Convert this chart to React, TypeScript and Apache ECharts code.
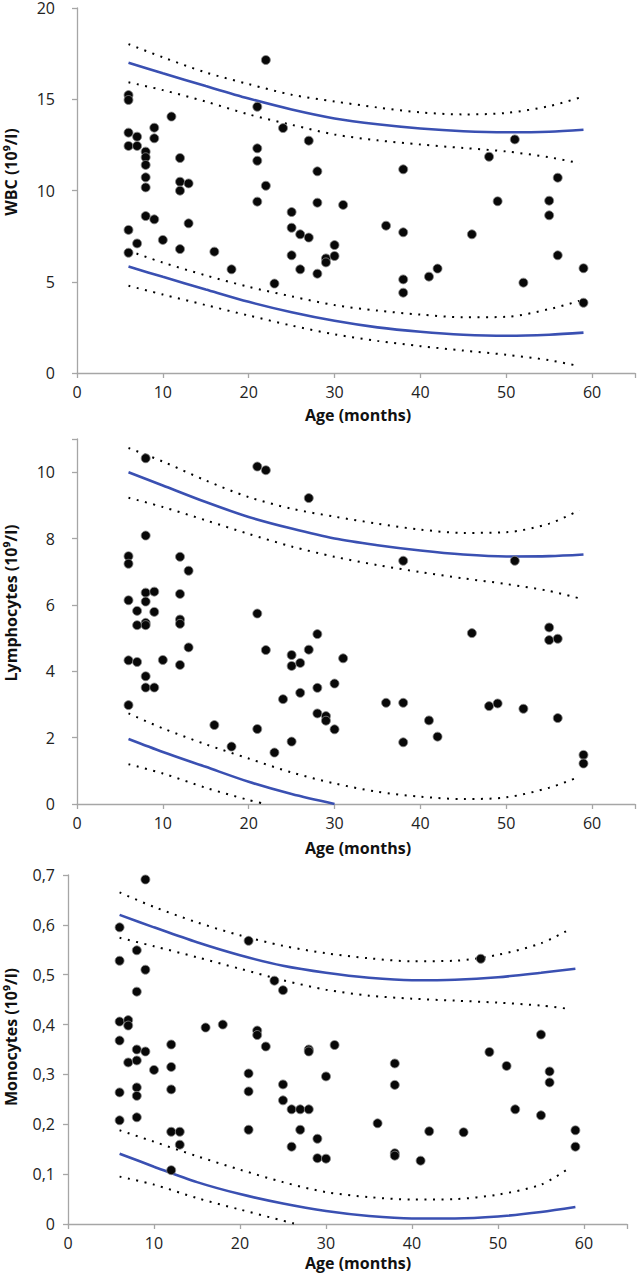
import React, { useEffect, useRef } from "react";
import * as echarts from "echarts";

// ---------- Panel 1: WBC ----------
const wbcPoints: [number, number][] = [
  [6, 15.23], [6, 14.96], [6, 13.17], [6, 12.44], [6, 7.84], [6, 6.59],
  [7, 12.95], [7, 12.44], [7, 7.1],
  [8, 12.13], [8, 11.82], [8, 11.4], [8, 10.72], [8, 10.17], [8, 8.6],
  [9, 13.44], [9, 12.86], [9, 8.42],
  [10, 7.29], [11, 14.05],
  [12, 11.78], [12, 10.48], [12, 9.99], [12, 6.79],
  [13, 10.39], [13, 8.2], [16, 6.65], [18, 5.68],
  [21, 14.59], [21, 12.31], [21, 11.63], [21, 9.39],
  [22, 17.15], [22, 10.26], [23, 4.9], [24, 13.42],
  [25, 8.82], [25, 7.96], [25, 6.45], [26, 7.6], [26, 5.68],
  [27, 12.73], [27, 7.42], [28, 11.05], [28, 9.33], [28, 5.44],
  [29, 6.28], [29, 6.06], [30, 7.01], [30, 6.41], [31, 9.21],
  [36, 8.07], [38, 11.16], [38, 7.71], [38, 5.13], [38, 4.4],
  [41, 5.28], [42, 5.72], [46, 7.6], [48, 11.85], [49, 9.41],
  [51, 12.8], [52, 4.95], [55, 9.44], [55, 8.64], [56, 10.7], [56, 6.45],
  [59, 5.74], [59, 3.85],
];
const curveAges = [6, 10, 15, 20, 25, 30, 35, 40, 45, 50, 55, 59];
const dotAges = [6, 10, 15, 20, 25, 30, 35, 40, 45, 50, 55, 58.5];
const wbcUpper = [17.0, 16.42, 15.72, 15.04, 14.44, 13.95, 13.63, 13.4, 13.25, 13.19, 13.22, 13.33];
const wbcUpperOuter = [18.02, 17.3, 16.47, 15.83, 15.25, 14.88, 14.55, 14.28, 14.17, 14.25, 14.62, 15.08];
const wbcUpperInner = [15.93, 15.5, 14.87, 14.17, 13.6, 13.07, 12.75, 12.52, 12.33, 12.14, 11.82, 11.5];
const wbcLower = [5.83, 5.27, 4.58, 3.9, 3.33, 2.86, 2.5, 2.26, 2.1, 2.04, 2.1, 2.21];
const wbcLowerInner = [6.7, 6.05, 5.35, 4.72, 4.2, 3.72, 3.42, 3.2, 3.05, 3.08, 3.5, 3.95];
const wbcLowerOuter = [4.78, 4.3, 3.72, 3.15, 2.6, 2.12, 1.76, 1.47, 1.23, 1.0, 0.7, 0.38];

// ---------- Panel 2: Lymphocytes ----------
const lymPoints: [number, number][] = [
  [6, 7.47], [6, 7.24], [6, 6.14], [6, 4.33], [6, 2.98],
  [7, 5.82], [7, 5.39], [7, 4.28],
  [8, 10.42], [8, 8.09], [8, 6.37], [8, 6.1], [8, 5.46], [8, 5.39], [8, 3.85], [8, 3.51],
  [9, 6.4], [9, 5.79], [9, 3.51], [10, 4.34],
  [12, 7.45], [12, 6.33], [12, 5.56], [12, 5.43], [12, 4.19],
  [13, 7.03], [13, 4.72], [16, 2.38], [18, 1.73],
  [21, 10.17], [21, 5.74], [21, 2.26], [22, 10.06], [22, 4.64],
  [23, 1.55], [24, 3.16], [25, 4.49], [25, 4.16], [25, 1.88],
  [26, 4.25], [26, 3.35], [27, 9.22], [27, 4.65],
  [28, 5.12], [28, 3.5], [28, 2.73], [29, 2.65], [29, 2.51],
  [30, 3.63], [30, 2.25], [31, 4.39], [36, 3.05],
  [38, 7.33], [38, 3.05], [38, 1.86], [41, 2.52], [42, 2.03],
  [46, 5.15], [48, 2.95], [49, 3.03], [51, 7.33], [52, 2.87],
  [55, 5.32], [55, 4.94], [56, 4.98], [56, 2.59], [59, 1.48], [59, 1.22],
];
const lymUpper = [10.0, 9.6, 9.1, 8.65, 8.3, 8.0, 7.8, 7.64, 7.52, 7.46, 7.47, 7.52];
const lymUpperOuter = [10.73, 10.32, 9.75, 9.25, 8.9, 8.66, 8.45, 8.27, 8.17, 8.19, 8.45, 8.85];
const lymUpperInner = [9.23, 8.95, 8.55, 8.14, 7.76, 7.45, 7.2, 6.99, 6.8, 6.63, 6.42, 6.2];
const lymLowerAges = [6, 10, 15, 20, 25, 30];
const lymLower = [1.96, 1.57, 1.12, 0.67, 0.3, 0.0];
const lymLowerInner = [2.73, 2.28, 1.8, 1.37, 0.95, 0.62, 0.37, 0.22, 0.15, 0.2, 0.49, 0.82];
const lymLowerOuterAges = [6, 10, 15, 20, 22];
const lymLowerOuter = [1.2, 0.92, 0.49, 0.12, 0.0];

// ---------- Panel 3: Monocytes ----------
const monoPoints: [number, number][] = [
  [6, 0.595], [6, 0.528], [6, 0.406], [6, 0.368], [6, 0.264], [6, 0.208],
  [7, 0.409], [7, 0.398], [7, 0.324],
  [8, 0.549], [8, 0.466], [8, 0.35], [8, 0.328], [8, 0.274], [8, 0.257], [8, 0.214],
  [9, 0.691], [9, 0.51], [9, 0.346], [10, 0.309],
  [12, 0.36], [12, 0.315], [12, 0.27], [12, 0.185], [12, 0.108],
  [13, 0.185], [13, 0.159], [16, 0.394], [18, 0.4],
  [21, 0.568], [21, 0.302], [21, 0.266], [21, 0.189],
  [22, 0.388], [22, 0.379], [23, 0.356], [24, 0.488],
  [25, 0.469], [25, 0.28], [25, 0.248], [26, 0.23], [26, 0.155],
  [27, 0.23], [27, 0.189], [28, 0.35], [28, 0.346], [28, 0.23],
  [29, 0.171], [29, 0.132], [30, 0.296], [30, 0.131], [31, 0.359],
  [36, 0.202], [38, 0.322], [38, 0.279], [38, 0.142], [38, 0.137],
  [41, 0.127], [42, 0.186], [46, 0.184], [48, 0.532], [49, 0.345],
  [51, 0.317], [52, 0.23], [55, 0.38], [55, 0.218], [56, 0.306], [56, 0.284],
  [59, 0.188], [59, 0.155],
];
const monoDotAges = [6, 10, 15, 20, 25, 30, 35, 40, 45, 50, 55, 58];
const monoUpper = [0.62, 0.595, 0.565, 0.539, 0.518, 0.504, 0.494, 0.489, 0.49, 0.495, 0.504, 0.512];
const monoUpperOuter = [0.665, 0.636, 0.605, 0.579, 0.558, 0.543, 0.533, 0.527, 0.528, 0.54, 0.563, 0.588];
const monoUpperInner = [0.574, 0.557, 0.535, 0.512, 0.489, 0.47, 0.458, 0.452, 0.448, 0.444, 0.438, 0.432];
const monoLower = [0.141, 0.115, 0.084, 0.06, 0.041, 0.026, 0.016, 0.011, 0.011, 0.015, 0.024, 0.034];
const monoLowerInner = [0.188, 0.165, 0.136, 0.109, 0.084, 0.064, 0.054, 0.049, 0.05, 0.059, 0.079, 0.109];
const monoLowerOuterAges = [6, 10, 15, 20, 26.5];
const monoLowerOuter = [0.095, 0.079, 0.052, 0.029, 0.0];

const xTitle = "Age (months)";
const yTitles = ["WBC (10⁹/l)", "Lymphocytes (10⁹/l)", "Monocytes (10⁹/l)"];

const FONT = '"Open Sans", "DejaVu Sans", sans-serif';
const BLUE = "#3a50b2";
const AXIS = "#a6a6a6";

const zip = (xs: number[], ys: number[]) => ys.map((y, i) => [xs[i], y]);

export default function App() {
  const ref = useRef<HTMLDivElement>(null);
  useEffect(() => {
    if (!ref.current) return;
    const chart = echarts.init(ref.current, undefined, { renderer: "svg" });

    const grids = [
      { left: 77, top: 8, width: 563, height: 365 },
      { left: 77, top: 439, width: 563, height: 365 },
      { left: 68, top: 875, width: 559, height: 349 },
    ];
    const yCfg = [
      { min: 0, max: 20, interval: 5 },
      { min: 0, max: 11, interval: 2 },
      { min: 0, max: 0.7, interval: 0.1 },
    ];
    const yMargins = [22, 22, 13];

    const axisCommon = {
      axisLine: { show: true, lineStyle: { color: AXIS, width: 1.3 } },
      axisTick: { show: true, inside: false, length: 5, lineStyle: { color: AXIS, width: 1.3 } },
      splitLine: { show: false },
    };

    const xAxis = grids.map((_, i) => ({
      type: "value",
      gridIndex: i,
      min: 0,
      max: 65,
      interval: 10,
      ...axisCommon,
      axisLabel: {
        fontFamily: FONT,
        fontSize: 16,
        color: "#222",
        margin: 11,
        formatter: (v: number) => (v > 60 ? "" : String(v)),
      },
    }));
    const yAxis = grids.map((_, i) => ({
      type: "value",
      gridIndex: i,
      ...yCfg[i],
      ...axisCommon,
      axisLabel: {
        fontFamily: FONT,
        fontSize: 16,
        color: "#222",
        margin: yMargins[i],
        formatter: (v: number) => {
          if (i === 1 && v > 10) return "";
          if (i === 2) return v === 0 ? "0" : v.toFixed(1).replace(".", ",");
          return String(v);
        },
      },
    }));

    const solid = (i: number, data: number[][]) => ({
      type: "line",
      xAxisIndex: i,
      yAxisIndex: i,
      data,
      smooth: 0.3,
      showSymbol: false,
      symbol: "none",
      lineStyle: { color: BLUE, width: 2.6 },
      z: 3,
    });
    const dotted = (i: number, data: number[][]) => ({
      type: "line",
      xAxisIndex: i,
      yAxisIndex: i,
      data,
      smooth: 0.3,
      showSymbol: false,
      symbol: "none",
      lineStyle: { color: "#000", width: 2, type: [2, 6.5], cap: "butt" },
      z: 2,
    });
    const scatter = (i: number, data: [number, number][]) => ({
      type: "scatter",
      xAxisIndex: i,
      yAxisIndex: i,
      data,
      symbol: "circle",
      symbolSize: 9,
      itemStyle: { color: "#080808", borderColor: "#8a8a8a", borderWidth: 0.8, opacity: 1 },
      z: 4,
    });

    const series = [
      scatter(0, wbcPoints),
      solid(0, zip(curveAges, wbcUpper)),
      solid(0, zip(curveAges, wbcLower)),
      dotted(0, zip(dotAges, wbcUpperOuter)),
      dotted(0, zip(dotAges, wbcUpperInner)),
      dotted(0, zip(dotAges, wbcLowerInner)),
      dotted(0, zip(dotAges, wbcLowerOuter)),

      scatter(1, lymPoints),
      solid(1, zip(curveAges, lymUpper)),
      solid(1, zip(lymLowerAges, lymLower)),
      dotted(1, zip(dotAges, lymUpperOuter)),
      dotted(1, zip(dotAges, lymUpperInner)),
      dotted(1, zip(dotAges, lymLowerInner)),
      dotted(1, zip(lymLowerOuterAges, lymLowerOuter)),

      scatter(2, monoPoints),
      solid(2, zip(curveAges, monoUpper)),
      solid(2, zip(curveAges, monoLower)),
      dotted(2, zip(monoDotAges, monoUpperOuter)),
      dotted(2, zip(monoDotAges, monoUpperInner)),
      dotted(2, zip(monoDotAges, monoLowerInner)),
      dotted(2, zip(monoLowerOuterAges, monoLowerOuter)),
    ];

    const titleStyle = {
      fontFamily: FONT,
      fontSize: 16,
      fontWeight: "bold",
      fill: "#111",
      align: "center",
      verticalAlign: "middle",
    };
    const xTitleY = [415, 848, 1263];
    const yTitleY = [172, 603, 1037];
    const graphic: any[] = [];
    xTitleY.forEach((y) =>
      graphic.push({ type: "text", x: 358, y, style: { ...titleStyle, text: xTitle } })
    );
    yTitleY.forEach((y, i) =>
      graphic.push({
        type: "text",
        x: 11,
        y,
        rotation: Math.PI / 2,
        style: { ...titleStyle, text: yTitles[i] },
      })
    );

    chart.setOption({
      animation: false,
      backgroundColor: "#fff",
      grid: grids,
      xAxis,
      yAxis,
      series,
      graphic,
    } as any);

    return () => chart.dispose();
  }, []);

  return (
    <div
      ref={ref}
      style={{ position: "absolute", left: 0, top: 0, width: 638, height: 1275 }}
    />
  );
}
